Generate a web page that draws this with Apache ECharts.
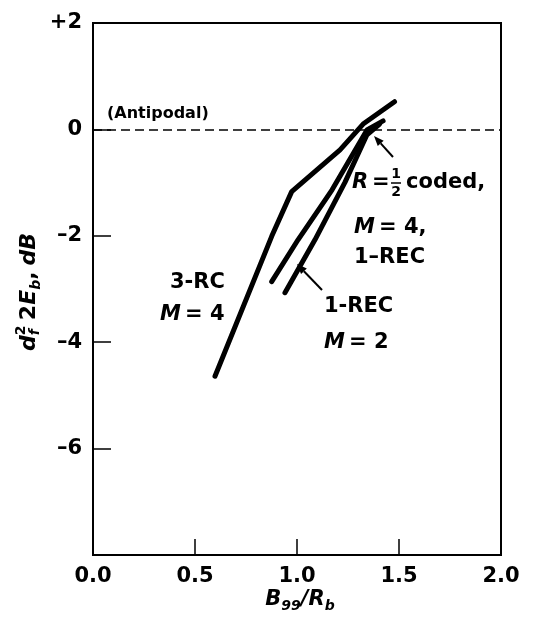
<!DOCTYPE html>
<html><head><meta charset="utf-8">
<script src="https://cdn.jsdelivr.net/npm/echarts@6/dist/echarts.min.js"></script>
<style>html,body{margin:0;padding:0;background:#fff}#c{width:535px;height:622px}</style>
</head><body><div id="c"></div>
<script>
// ---- data ----
const xTicks = [0.0, 0.5, 1.0, 1.5, 2.0];
const yTickLabels = {'2': '+2', '0': '0', '-2': '\u20132', '-4': '\u20134', '-6': '\u20136', '-8': ''};
const rc3X = [0.598, 0.876, 0.974, 1.211, 1.324, 1.478];
const rc3Y = [-4.64, -2.01, -1.17, -0.385, 0.10, 0.52];
const codedX = [0.876, 1.005, 1.172, 1.343, 1.422];
const codedY = [-2.86, -2.075, -1.136, -0.01, 0.16];
const rec2X = [0.941, 1.088, 1.235, 1.343, 1.405];
const rec2Y = [-3.07, -2.075, -0.996, -0.10, 0.10];
const antipodal = 0;

// ---- helpers ----
const FONT = '"DejaVu Sans", sans-serif';
function fnt(p) { return (p.italic ? 'italic ' : '') + 'bold ' + p.size + 'px ' + FONT; }
const cv = document.createElement('canvas').getContext('2d');
function tw(t, f) { cv.font = f; return cv.measureText(t).width; }
function runText(parts) {
  let x = 0; const out = [];
  parts.forEach(p => {
    if (p.gap) { x += p.gap; return; }
    const f = fnt(p);
    out.push({type: 'text', x: x, y: p.dy || 0,
      style: {text: p.t, font: f, fill: '#000', align: 'left', verticalAlign: 'middle'}});
    if (!p.noAdv) x += tw(p.t, f);
  });
  return {children: out, width: x};
}
const TS = 21;
function label(x, y, t, size, italic) {
  return {type: 'text', x: x, y: y, style: {text: t, font: fnt({size: size || TS, italic: italic}),
    fill: '#000', align: 'left', verticalAlign: 'middle'}};
}
function arrow(x1, y1, x2, y2) {
  const a = Math.atan2(y2 - y1, x2 - x1), L = 10, W = 4;
  const bx = x2 - L * Math.cos(a), by = y2 - L * Math.sin(a);
  const px = -Math.sin(a) * W, py = Math.cos(a) * W;
  return [
    {type: 'line', shape: {x1: x1, y1: y1, x2: bx, y2: by}, style: {stroke: '#000', lineWidth: 2}},
    {type: 'polygon', shape: {points: [[x2, y2], [bx + px, by + py], [bx - px, by - py]]}, style: {fill: '#000'}}
  ];
}

// y axis name  d_f^2 2E_b, dB  (rotated)
const yName = runText([
  {t: 'd', size: 22, italic: true},
  {t: '2', size: 14, dy: -8, noAdv: true},
  {t: 'f', size: 14, italic: true, dy: 6},
  {gap: 9},
  {t: '2', size: 22},
  {t: 'E', size: 22, italic: true},
  {t: 'b', size: 14, italic: true, dy: 7},
  {t: ',', size: 22},
  {gap: 6},
  {t: 'dB', size: 22, italic: true}
]);
// x axis name B_99/R_b
const xName = runText([
  {t: 'B', size: 21, italic: true},
  {t: '99', size: 14, italic: true, dy: 6},
  {t: '/R', size: 21, italic: true},
  {t: 'b', size: 14, italic: true, dy: 6}
]);

const graphics = [
  {type: 'group', x: 29, y: 351, rotation: Math.PI / 2, children: yName.children},
  {type: 'group', x: 300 - xName.width / 2, y: 600, children: xName.children},
  label(107, 114, '(Antipodal)', 16),
  label(352, 183, 'R', TS, true),
  label(372, 183, '=', TS),
  {type: 'text', x: 396, y: 174, style: {text: '1', font: fnt({size: 14}), fill: '#000', align: 'center', verticalAlign: 'middle'}},
  {type: 'line', shape: {x1: 391, y1: 183, x2: 401, y2: 183}, style: {stroke: '#000', lineWidth: 1.5}},
  {type: 'text', x: 396, y: 192, style: {text: '2', font: fnt({size: 14}), fill: '#000', align: 'center', verticalAlign: 'middle'}},
  label(406, 183, 'coded,', TS),
  label(354, 228, 'M', TS, true),
  label(379, 228, '= 4,', TS),
  label(354, 258, '1\u2013REC', TS),
  label(170, 283, '3-RC', TS),
  label(160, 315, 'M', TS, true),
  label(185, 315, '= 4', TS),
  label(324, 307, '1-REC', TS),
  label(324, 343, 'M', TS, true),
  label(349, 343, '= 2', TS)
].concat(arrow(393, 157, 374, 136), arrow(322, 290, 297, 264));

const lineStyle = {color: '#000', width: 5, cap: 'round', join: 'round'};
function series(name, xs, ys, extra) {
  return Object.assign({
    name: name, type: 'line', data: xs.map((x, i) => [x, ys[i]]),
    showSymbol: false, symbol: 'none', lineStyle: lineStyle, silent: true, z: 3
  }, extra || {});
}

const chart = echarts.init(document.getElementById('c'), null, {renderer: 'canvas'});
chart.setOption({
  animation: false,
  backgroundColor: '#fff',
  grid: {left: 93, right: 34, top: 23, bottom: 67, show: true, borderColor: '#000', borderWidth: 2,
    containLabel: false, outerBoundsMode: 'none'},
  xAxis: {
    type: 'value', min: 0, max: 2, interval: 0.5,
    axisLine: {show: true, onZero: false, lineStyle: {color: '#000', width: 2}},
    axisTick: {show: true, inside: true, length: 16, lineStyle: {color: '#000', width: 1.5}},
    axisLabel: {show: true, formatter: v => xTicks.includes(v) ? v.toFixed(1) : '', color: '#000',
      fontSize: 21, fontWeight: 'bold', fontFamily: FONT, margin: 11, showMinLabel: true, showMaxLabel: true},
    splitLine: {show: false}
  },
  yAxis: {
    type: 'value', min: -8, max: 2, interval: 2,
    axisLine: {show: true, onZero: false, lineStyle: {color: '#000', width: 2}},
    axisTick: {show: true, inside: true, length: 18, lineStyle: {color: '#000', width: 1.5}},
    axisLabel: {show: true, formatter: v => yTickLabels[String(v)] ?? '', color: '#000',
      fontSize: 21, fontWeight: 'bold', fontFamily: FONT, margin: 11, showMinLabel: true, showMaxLabel: true},
    splitLine: {show: false}
  },
  series: [
    series('3-RC M=4', rc3X, rc3Y, {
      markLine: {silent: true, symbol: ['none', 'none'], label: {show: false},
        lineStyle: {color: '#000', width: 1.5, type: [9, 5]},
        data: [{yAxis: antipodal}]}
    }),
    series('R=1/2 coded M=4 1-REC', codedX, codedY),
    series('1-REC M=2', rec2X, rec2Y)
  ],
  graphic: graphics
});
</script>
</body></html>
